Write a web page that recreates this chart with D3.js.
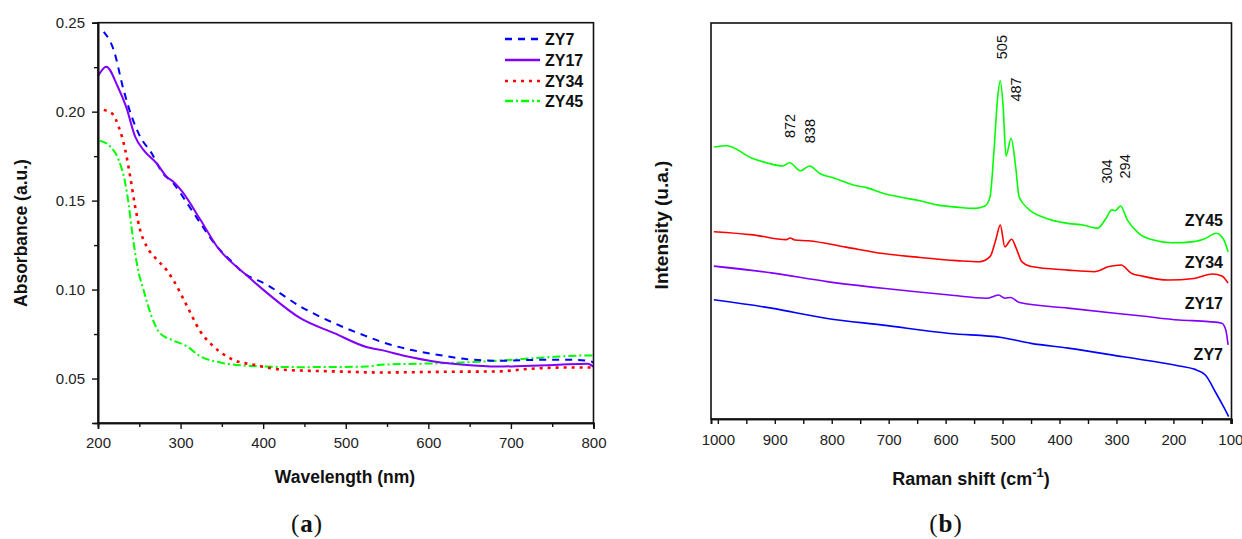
<!DOCTYPE html>
<html><head><meta charset="utf-8">
<script src="https://cdn.jsdelivr.net/npm/d3@7/dist/d3.min.js"></script>
<style>
html,body{margin:0;padding:0;background:#fff;}
svg{display:block;font-family:"Liberation Sans",Arial,sans-serif;}
</style></head><body>
<svg id="c" width="1242" height="539"></svg>
<script>
// ---------- Panel (a): UV-Vis absorbance ----------
const uvSeries = ["ZY7", "ZY17", "ZY34", "ZY45"];
const zy7Wl  = [207,219,231,241,251,265,277,291,308,324,344,364,372,405,445,486,526,542,583,607,647,672,692,732,757,777,797,800];
const zy7Abs = [0.2449,0.2347,0.2122,0.197,0.186,0.1766,0.1663,0.1598,0.1485,0.1373,0.1242,0.1148,0.111,0.1026,0.0905,0.0811,0.0736,0.0708,0.0657,0.0637,0.0609,0.0601,0.0600,0.0605,0.0605,0.0605,0.0596,0.0590];
const zy17Wl  = [200,210,224,234,245,255,271,283,291,302,324,344,380,405,445,486,526,542,575,607,643,684,716,757,793,800];
const zy17Abs = [0.220,0.2253,0.214,0.2028,0.186,0.1785,0.171,0.1635,0.1607,0.155,0.1392,0.1242,0.108,0.098,0.0839,0.0755,0.0676,0.0661,0.0624,0.0596,0.0577,0.0567,0.0571,0.0577,0.0583,0.0567];
const zy34Wl  = [207,217,225,233,239,245,251,259,271,283,291,306,324,340,364,389,425,486,542,623,684,724,765,797,800];
const zy34Abs = [0.2009,0.199,0.1916,0.1785,0.1635,0.1466,0.1335,0.1242,0.117,0.111,0.1055,0.0924,0.0764,0.068,0.0605,0.0577,0.0549,0.054,0.0534,0.0538,0.054,0.0555,0.0562,0.0562,0.0555];
const zy45Wl  = [202,215,225,233,237,241,245,249,255,265,275,291,308,324,348,384,445,526,542,623,684,745,797,800];
const zy45Abs = [0.1837,0.1803,0.1729,0.1598,0.1485,0.1335,0.1205,0.110,0.100,0.0848,0.0755,0.0714,0.068,0.0624,0.059,0.0571,0.0564,0.0567,0.0577,0.0587,0.060,0.0620,0.0630,0.0628];
const uvXTicks = [200,300,400,500,600,700,800];
const uvYTicks = [0.05,0.10,0.15,0.20,0.25];

// ---------- Panel (b): Raman ----------
const ramanSeries = ["ZY45", "ZY34", "ZY17", "ZY7"];
const zy45Shift = [1007,984,941,912,886,874,855,839,821,795,762,736,710,678,645,613,580,548,531,522,515,509,504,499,494,485,477,471,456,424,385,359,333,320,308,302,293,281,261,235,203,164,144,125,112,104];
const zy45Int   = [68.7,69.0,65.9,64.6,63.9,64.7,62.7,63.9,62.0,60.8,59.1,58.3,57.0,56.0,55.1,54.0,53.5,53.2,53.8,56.1,67.9,80.6,85.4,78.9,66.4,70.9,63.7,56.1,53.2,50.7,49.4,49.0,48.2,50.3,52.8,52.6,53.8,50.3,46.9,45.2,44.5,44.8,45.6,46.9,45.4,42.2];
const zy34Shift = [1007,938,880,873,865,841,775,710,645,580,541,522,512,504,496,484,476,466,450,385,339,313,292,274,255,209,164,131,115,104];
const zy34Int   = [47.3,46.5,45.3,45.7,45.2,45.0,43.4,41.8,40.8,40.0,39.7,41.0,45.2,49.0,43.5,45.4,43.1,39.7,38.5,37.6,37.2,38.5,38.9,36.8,36.1,35.1,35.5,36.6,36.1,34.3];
const zy17Shift = [1007,906,808,710,593,528,507,496,486,470,385,255,190,138,115,108,104];
const zy17Int   = [38.6,36.9,34.7,33.0,31.3,30.5,31.3,30.5,30.7,29.4,28.0,26.0,25.0,24.6,24.2,22.5,18.7];
const zy7Shift  = [1007,906,808,710,593,502,450,385,288,190,164,144,125,112,103];
const zy7Int    = [30.1,28.0,25.4,23.7,21.6,20.6,19.1,17.9,15.7,13.4,12.6,11.1,6.5,3.1,0.6];
const ramanXTicks = [1000,900,800,700,600,500,400,300,200,100];
const peakLabels = ["872","838","505","487","304","294"];
const peakShift  = [873,839,502,477,316,286];
const peakInt    = [74.0,72.7,93.9,83.2,62.5,63.8];
const seriesLabelInt = [50.3,39.7,29.2,16.4];
const seriesLabelShift = 113;

const svg = d3.select("#c");
const colors = {ZY7:"#0000ff", ZY17:"#8000ff", ZY34:"#ff0000", ZY45:"#00ff00"};
const dashes = {ZY7:"7,6", ZY17:null, ZY34:"3,5", ZY45:"8,3,2,3"};

// ===== Panel (a) =====
const xA = d3.scaleLinear().domain([200,800]).range([98,593.5]);
const yA = d3.scaleLinear().domain([0.025,0.25]).range([423,22.7]);
const gA = svg.append("g");
const uvData = {
  ZY7: d3.zip(zy7Wl, zy7Abs), ZY17: d3.zip(zy17Wl, zy17Abs),
  ZY34: d3.zip(zy34Wl, zy34Abs), ZY45: d3.zip(zy45Wl, zy45Abs)
};
const lineA = d3.line().x(d=>xA(d[0])).y(d=>yA(d[1])).curve(d3.curveMonotoneX);
["ZY45","ZY34","ZY7","ZY17"].forEach(s=>{
  gA.append("path").attr("d", lineA(uvData[s])).attr("fill","none")
    .attr("stroke", colors[s]).attr("stroke-width", s==="ZY34"?2.6:2)
    .attr("stroke-dasharray", dashes[s]);
});
gA.append("rect").attr("x",xA.range()[0]).attr("y",yA.range()[1])
  .attr("width",xA.range()[1]-xA.range()[0]).attr("height",yA.range()[0]-yA.range()[1])
  .attr("fill","none").attr("stroke","#111").attr("stroke-width",1.6);
const axA_x = d3.axisBottom(xA).tickValues(uvXTicks).tickFormat(d3.format("d")).tickSize(6).tickPadding(8);
const axA_xm = d3.axisBottom(xA).tickValues(d3.range(250,800,100)).tickFormat("").tickSize(4);
const axA_y = d3.axisLeft(yA).tickValues(uvYTicks).tickFormat(d3.format(".2f")).tickSize(6).tickPadding(7);
const axA_ym = d3.axisLeft(yA).tickValues([0.075,0.125,0.175,0.225]).tickFormat("").tickSize(4);
[axA_x,axA_xm].forEach(a=>gA.append("g").attr("transform",`translate(0,${yA.range()[0]})`).call(a));
[axA_y,axA_ym].forEach(a=>gA.append("g").attr("transform",`translate(${xA.range()[0]},0)`).call(a));

// legend
const legY = [39,60,81,101];
uvSeries.forEach((s,i)=>{
  gA.append("line").attr("x1",505).attr("x2",540).attr("y1",legY[i]).attr("y2",legY[i])
    .attr("stroke",colors[s]).attr("stroke-width", s==="ZY34"?2.6:2.4).attr("stroke-dasharray",dashes[s]);
  gA.append("text").attr("x",545).attr("y",legY[i]).attr("dy","0.36em")
    .attr("font-size",16).attr("font-weight","bold").attr("fill","#111").text(s);
});
gA.append("text").attr("x",345).attr("y",483).attr("text-anchor","middle")
  .attr("font-size",17.5).attr("font-weight","bold").attr("fill","#111").text("Wavelength (nm)");
gA.append("text").attr("transform","translate(27,233) rotate(-90)").attr("text-anchor","middle")
  .attr("font-size",17.5).attr("font-weight","bold").attr("fill","#111").text("Absorbance (a.u.)");
const capA = gA.append("text").attr("x",307).attr("y",532).attr("text-anchor","middle")
  .attr("font-family","'Liberation Serif','DejaVu Serif',serif").attr("font-size",25)
  .attr("letter-spacing",1).attr("fill","#111");
capA.append("tspan").text("(");
capA.append("tspan").attr("font-weight","bold").text("a");
capA.append("tspan").text(")");

// ===== Panel (b) =====
const xB = d3.scaleLinear().domain([1012,98]).range([711,1231.5]);
const yB = d3.scaleLinear().domain([0,100]).range([419,23]);
const gB = svg.append("g");
const ramanData = {
  ZY45: d3.zip(zy45Shift, zy45Int), ZY34: d3.zip(zy34Shift, zy34Int),
  ZY17: d3.zip(zy17Shift, zy17Int), ZY7: d3.zip(zy7Shift, zy7Int)
};
const lineB = d3.line().x(d=>xB(d[0])).y(d=>yB(d[1])).curve(d3.curveMonotoneX);
ramanSeries.forEach(s=>{
  gB.append("path").attr("d", lineB(ramanData[s])).attr("fill","none")
    .attr("stroke", colors[s]).attr("stroke-width",1.6).attr("stroke-linejoin","round");
});
gB.append("rect").attr("x",xB.range()[0]).attr("y",yB.range()[1])
  .attr("width",xB.range()[1]-xB.range()[0]).attr("height",yB.range()[0]-yB.range()[1])
  .attr("fill","none").attr("stroke","#111").attr("stroke-width",1.6);
const axB_x = d3.axisBottom(xB).tickValues(ramanXTicks).tickFormat(d3.format("d")).tickSize(5).tickPadding(10);
const axB_xm = d3.axisBottom(xB).tickValues(d3.range(150,1000,100)).tickFormat("").tickSize(5);
gB.append("g").attr("transform",`translate(0,${yB.range()[0]})`).call(axB_x);
gB.append("g").attr("transform",`translate(0,${yB.range()[0]})`).call(axB_xm);

peakLabels.forEach((t,i)=>{
  gB.append("text").attr("transform",`translate(${xB(peakShift[i])},${yB(peakInt[i])}) rotate(-90)`)
    .attr("text-anchor","middle").attr("dy","0.35em").attr("font-size",14.5).attr("fill","#111").text(t);
});
ramanSeries.forEach((s,i)=>{
  gB.append("text").attr("x",xB(seriesLabelShift)).attr("y",yB(seriesLabelInt[i])).attr("dy","0.36em")
    .attr("text-anchor","end").attr("font-size",16).attr("font-weight","bold").attr("fill","#111").text(s);
});
const tB = gB.append("text").attr("x",971).attr("y",485).attr("text-anchor","middle")
  .attr("font-size",18).attr("font-weight","bold").attr("fill","#111");
tB.append("tspan").text("Raman shift (cm");
tB.append("tspan").attr("dy",-8).attr("font-size",13).text("-1");
tB.append("tspan").attr("dy",8).text(")");
gB.append("text").attr("transform","translate(668,225) rotate(-90)").attr("text-anchor","middle")
  .attr("font-size",19).attr("font-weight","bold").attr("fill","#111").text("Intensity (u.a.)");
const capB = gB.append("text").attr("x",946).attr("y",532).attr("text-anchor","middle")
  .attr("font-family","'Liberation Serif','DejaVu Serif',serif").attr("font-size",25)
  .attr("letter-spacing",1).attr("fill","#111");
capB.append("tspan").text("(");
capB.append("tspan").attr("font-weight","bold").text("b");
capB.append("tspan").text(")");

svg.selectAll(".tick text").attr("font-size",15).attr("fill","#222").attr("font-family","'Liberation Sans',Arial,sans-serif");
svg.selectAll(".tick line").attr("stroke","#111").attr("stroke-width",1.4);
svg.selectAll(".domain").attr("stroke","#111").attr("stroke-width",1.6);
</script>
</body></html>
